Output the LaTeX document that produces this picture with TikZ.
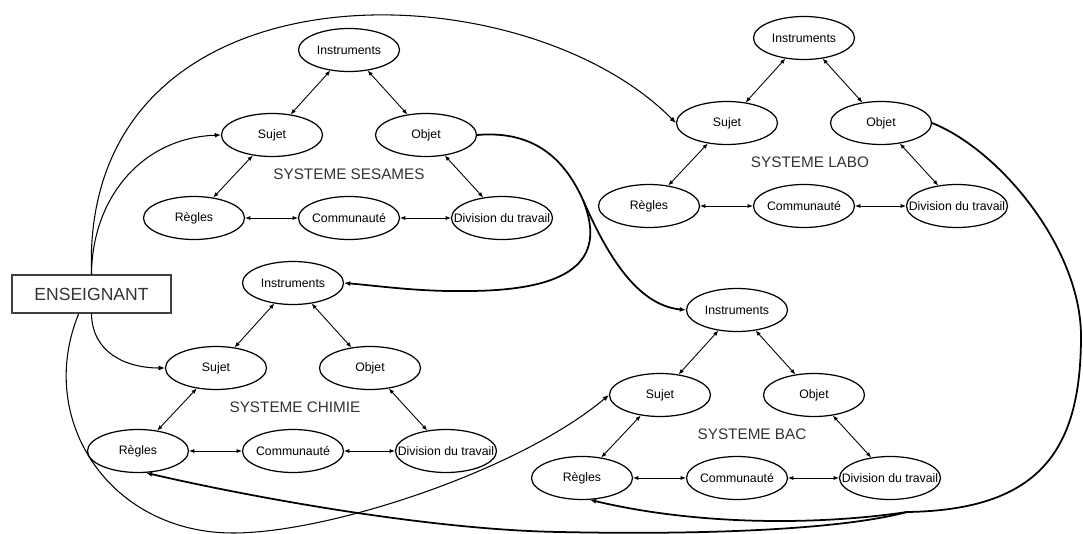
\documentclass[tikz,border=0pt]{standalone}
\usepackage{fontspec}
\setmainfont{Liberation Sans}
\usetikzlibrary{shapes.geometric,arrows.meta}
\begin{document}
\begin{tikzpicture}
[x=0.02cm,y=-0.02cm,
  nodedecorate/.style={shape=ellipse,draw,line width=0.7pt,inner xsep=-0.26cm,inner ysep=0pt,
    minimum width=2.02cm,minimum height=0.86cm,font=\fontsize{7}{8}\selectfont},
  boxdecorate/.style={shape=rectangle,draw=black!75,line width=0.8pt,
    minimum width=3.18cm,minimum height=0.76cm,font=\fontsize{10}{12}\selectfont,text=black!80},
  titledecorate/.style={font=\fontsize{8.7}{10}\selectfont,text=black!80},
  linedecorate/.style={{Latex[length=3pt,width=2.4pt]}-{Latex[length=3pt,width=2.4pt]},line width=0.5pt},
  curvedecorate/.style={-{Latex[length=3.5pt,width=2.8pt]},line width=0.6pt},
  thickdecorate/.style={-{Latex[length=3.5pt,width=2.8pt]},line width=1pt}]
\useasboundingbox (0,0) rectangle (1083,534);
%% the four activity systems
\foreach \p/\x/\y/\name/\dx in {s/349/50/SESAMES/0,l/804/38/LABO/6,
    c/293/283/CHIMIE/2,b/737/310/BAC/15}{
  \node (\p ins) at (\x,\y) [nodedecorate] {Instruments};
  \node (\p suj) at (\x-77,\y+85) [nodedecorate] {Sujet};
  \node (\p obj) at (\x+77,\y+85) [nodedecorate] {Objet};
  \node (\p rgl) at (\x-155,\y+168) [nodedecorate] {Règles};
  \node (\p com) at (\x,\y+168) [nodedecorate] {Communauté};
  \node (\p div) at (\x+153,\y+168) [nodedecorate] {Division du travail};
  \node (\p sys) at (\x+\dx,\y+124) [titledecorate] {SYSTEME \name};
  \path
  (\p ins) edge[linedecorate] (\p suj)
  (\p ins) edge[linedecorate] (\p obj)
  (\p suj) edge[linedecorate] (\p rgl)
  (\p obj) edge[linedecorate] (\p div)
  (\p rgl) edge[linedecorate] (\p com)
  (\p com) edge[linedecorate] (\p div);
}
%% the teacher
\node (ens) at (91.5,294) [boxdecorate] {ENSEIGNANT};
%% links between the systems
\coordinate (ssplit) at (583,200);
\coordinate (lsplit) at (907,512);
\draw[curvedecorate] (ens.north) .. controls (92,200) and (140,138) .. (ssuj.west);
\draw[curvedecorate] (ens.north) .. controls (80,-45) and (520,-35) .. (lsuj.west);
\draw[curvedecorate] (ens.south) .. controls (92,352) and (125,368) .. (csuj.west);
\draw[curvedecorate] (ens.-123) .. controls (35,420) and (110,533) .. (233,533)
  .. controls (330,533) and (520,470) .. (bsuj.west);
\draw[thickdecorate,-] (sobj.east) .. controls (535,130) and (565,160) .. (ssplit);
\draw[thickdecorate] (ssplit) .. controls (605,255) and (580,290) .. (470,291)
  .. controls (420,292) and (380,286) .. (cins.east);
\draw[thickdecorate] (ssplit) .. controls (605,250) and (635,305) .. (bins.west);
\draw[thickdecorate,-] (lobj.east) .. controls (1000,150) and (1083,250) .. (1081,340)
  .. controls (1080,450) and (1040,510) .. (lsplit);
\draw[thickdecorate] (lsplit) .. controls (820,525) and (700,526) .. (brgl.-70);
\draw[thickdecorate] (lsplit) .. controls (840,530) and (700,535) .. (560,532)
  .. controls (430,530) and (250,497) .. (crgl.-70);
\end{tikzpicture}
\end{document}
